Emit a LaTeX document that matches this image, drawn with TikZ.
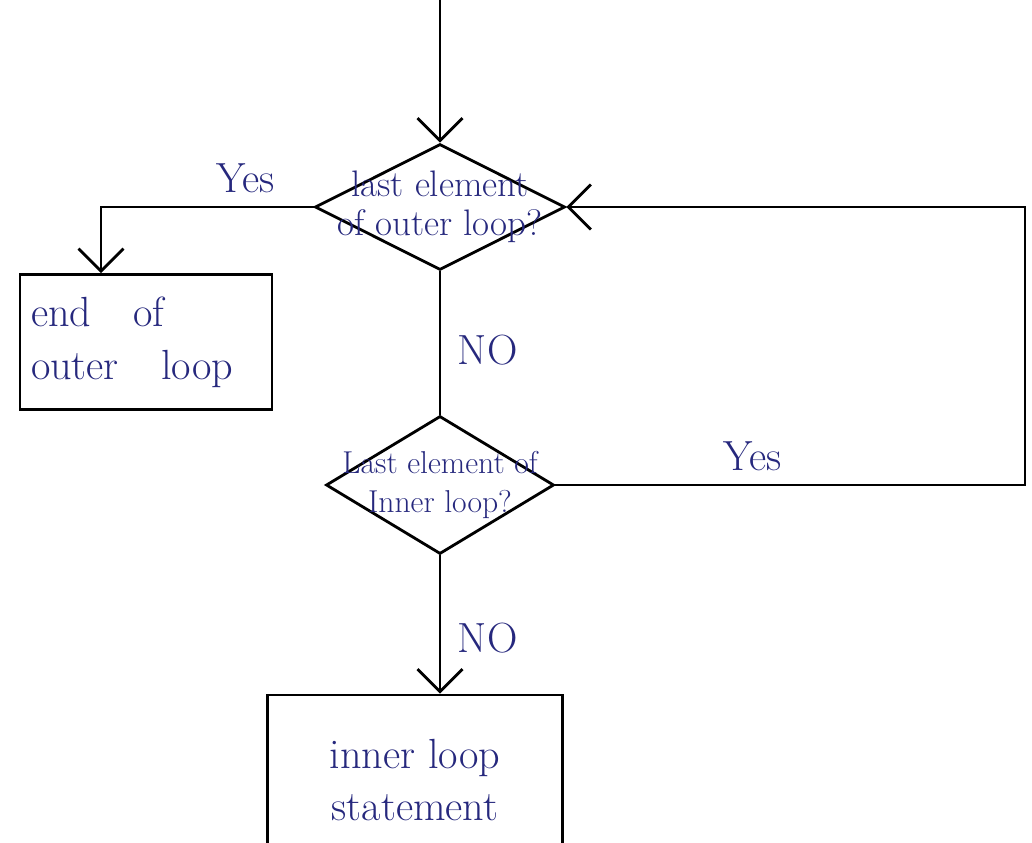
\documentclass[tikz,border=0pt]{standalone}
\usepackage{fontspec}
\usepackage{tikz}
\usetikzlibrary{shapes.geometric, positioning}
\usetikzlibrary{calc,arrows.meta}
\definecolor{ink}{RGB}{38,40,125}

\begin{document}
\begin{tikzpicture}
[   dnode/.style={draw=black,line width=1.6pt,diamond,inner sep=0pt,minimum width=#1},
    bnode/.style={draw=black,line width=1.6pt,rectangle,inner sep=6pt,text=ink,font=\fontsize{24}{30}\selectfont},
    lbl/.style={text=ink,font=\fontsize{24}{28}\selectfont},
]
\tikzset{normal arrow/.style={draw,line width=1.6pt,-{Straight Barb[length=4.5mm,width=9mm]}}}
\clip (0,0) rectangle (20.64,-16.86);
\coordinate (in) at (8.8,0);
\coordinate (back) at (20.5,-7);
\node[dnode=5cm,minimum height=2.52cm,label={[text=ink,align=center,font=\fontsize{21}{22}\selectfont]center:{last element\\of outer loop?}}] (d1) at (8.8,-4.14) {};
\node[dnode=4.56cm,minimum height=2.76cm,label={[text=ink,align=center,font=\fontsize{18}{22}\selectfont]center:{Last element of\\Inner loop?}}] (d2) at (8.8,-9.7) {};
\node[bnode,minimum width=5.04cm,minimum height=2.7cm,text width=4.6cm,align=left] (b1) at (2.92,-6.84) {end\quad of\\outer\quad loop};
\node[bnode,minimum width=5.9cm,minimum height=3.4cm,align=center] (b2) at (8.3,-15.6) {inner loop\\statement};

\path[normal arrow] (in) -- (d1.north);
\path[normal arrow] (d1.west) -| node[lbl,above=4pt,pos=0.16] {Yes} ([xshift=-0.9cm]b1.north);
\draw[line width=1.6pt] (d1.south) -- node[lbl,right=6pt,pos=0.55] {NO} (d2.north);
\path[normal arrow] (d2.east) -| node[lbl,above=4pt,pos=0.21] {Yes} (back) |- (d1.east);
\path[normal arrow] (d2.south) -- node[lbl,right=6pt,pos=0.6] {NO} (d2.south |- b2.north);
\end{tikzpicture}
\end{document}
